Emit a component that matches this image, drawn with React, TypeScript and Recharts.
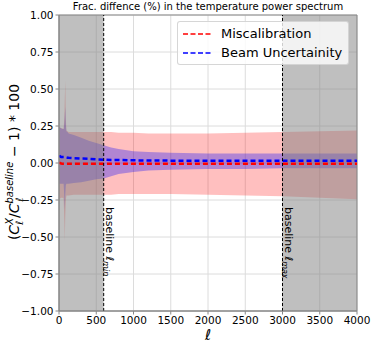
import React from 'react';
import {
  ComposedChart,
  Area,
  Line,
  XAxis,
  YAxis,
  CartesianGrid,
  ReferenceArea,
  ReferenceLine,
  Label,
} from 'recharts';

// multipole values
const ell = [2, 15, 30, 45, 62, 72, 78, 84, 92, 100, 115, 130, 200, 300, 400, 500, 600, 700, 800, 1000, 1200, 1500, 2000, 2500, 3000, 3500, 4000];

// miscalibration band + mean
const miscHigh = [0.24, 0.24, 0.235, 0.235, 0.23, 0.32, 0.45, 0.56, 0.3, 0.22, 0.215, 0.21, 0.21, 0.21, 0.21, 0.21, 0.21, 0.21, 0.205, 0.205, 0.2, 0.2, 0.2, 0.205, 0.21, 0.215, 0.22];
const miscLow = [-0.24, -0.24, -0.235, -0.235, -0.24, -0.4, -0.53, -0.36, -0.25, -0.22, -0.22, -0.22, -0.215, -0.215, -0.215, -0.215, -0.215, -0.215, -0.21, -0.21, -0.21, -0.21, -0.215, -0.22, -0.225, -0.235, -0.245];
const miscMean = [0.003, 0.0, -0.003, -0.005, -0.005, -0.005, -0.005, -0.005, -0.005, -0.005, -0.005, -0.005, -0.005, -0.005, -0.005, -0.005, -0.005, -0.005, -0.005, -0.005, -0.005, -0.005, -0.005, -0.005, -0.005, -0.005, -0.005];

// beam uncertainty band + mean
const beamHigh = [0.245, 0.24, 0.235, 0.23, 0.23, 0.27, 0.33, 0.38, 0.26, 0.215, 0.21, 0.2, 0.19, 0.17, 0.15, 0.135, 0.12, 0.105, 0.095, 0.08, 0.075, 0.07, 0.065, 0.065, 0.065, 0.065, 0.065];
const beamLow = [-0.14, -0.14, -0.14, -0.14, -0.14, -0.24, -0.32, -0.22, -0.15, -0.14, -0.14, -0.14, -0.135, -0.13, -0.12, -0.11, -0.105, -0.09, -0.075, -0.06, -0.05, -0.045, -0.04, -0.04, -0.035, -0.035, -0.035];
const beamMean = [0.04, 0.045, 0.04, 0.04, 0.04, 0.04, 0.04, 0.04, 0.04, 0.038, 0.036, 0.035, 0.033, 0.03, 0.028, 0.025, 0.022, 0.02, 0.02, 0.018, 0.017, 0.016, 0.015, 0.015, 0.015, 0.015, 0.015];

const xTicks = [0, 500, 1000, 1500, 2000, 2500, 3000, 3500, 4000];
const yTicks = [-1, -0.75, -0.5, -0.25, 0, 0.25, 0.5, 0.75, 1];
const lMin = 600;
const lMax = 3000;

const legendItems = [
  { name: 'Miscalibration', color: '#ff0000' },
  { name: 'Beam Uncertainity', color: '#0000ff' },
];

const data = ell.map((l, i) => ({
  ell: l,
  miscBand: [miscLow[i], miscHigh[i]],
  beamBand: [beamLow[i], beamHigh[i]],
  misc: miscMean[i],
  beam: beamMean[i],
}));

const FONT = '"DejaVu Sans", sans-serif';
const fmtY = (v: number) => v.toFixed(2).replace('-', '\u2212');

const YLabel = () => (
  <text
    x={19}
    y={162}
    transform="rotate(-90, 19, 162)"
    textAnchor="middle"
    fontSize={14}
    fill="#000"
    fontFamily={FONT}
  >
    (<tspan fontStyle="italic">C</tspan>
    <tspan fontSize={10} fontStyle="italic" dy={-6}>X</tspan>
    <tspan fontSize={10} fontStyle="italic" dx={-6.9} dy={10}>ℓ</tspan>
    <tspan dx={2.7} dy={-4}>/</tspan>
    <tspan fontStyle="italic">C</tspan>
    <tspan fontSize={10} fontStyle="italic" dy={-6}>baseline</tspan>
    <tspan fontSize={10} fontStyle="italic" dx={-40} dy={10}>ℓ</tspan>
    <tspan dx={36} dy={-4}> − 1) * 100</tspan>
  </text>
);

const XLabel = () => (
  <text x={208} y={340} textAnchor="middle" fontSize={15} fontStyle="italic" fill="#000" fontFamily={FONT}>
    ℓ
  </text>
);

const vLabel = (sub: string) => (props: any) => {
  const x = props.viewBox.x + 2;
  const y = 207;
  return (
    <text x={x} y={y} transform={`rotate(90, ${x}, ${y})`} fontSize={11} fill="#000" fontFamily={FONT}>
      baseline <tspan fontStyle="italic">ℓ</tspan>
      <tspan fontSize={8} fontStyle="italic" dy={2.5}>{sub}</tspan>
    </text>
  );
};

const LegendBox = () => (
  <div
    style={{
      position: 'absolute',
      left: 177,
      top: 21,
      background: 'rgba(255,255,255,0.8)',
      border: '1px solid rgba(204,204,204,0.8)',
      borderRadius: 3,
      padding: '2px 6px 2px 5px',
      fontFamily: FONT,
      fontSize: 13,
      color: '#000',
    }}
  >
    {legendItems.map((it) => (
      <div key={it.name} style={{ display: 'flex', alignItems: 'center', height: 19 }}>
        <svg width={28} height={4} style={{ marginRight: 10 }}>
          <line x1={0} y1={2} x2={28} y2={2} stroke={it.color} strokeWidth={1.6} strokeDasharray="5 2.5" />
        </svg>
        <span>{it.name}</span>
      </div>
    ))}
  </div>
);

export default function App() {
  return (
    <div style={{ position: 'absolute', left: 0, top: 0, width: 374, height: 344, background: '#fff', fontFamily: FONT }}>
      <div
        style={{
          position: 'absolute',
          left: 59,
          width: 298,
          top: 0,
          textAlign: 'center',
          fontSize: 10,
          lineHeight: '13px',
          whiteSpace: 'nowrap',
          color: '#000',
        }}
      >
        Frac. diffence (%) in the temperature power spectrum
      </div>
      <ComposedChart width={374} height={344} data={data} margin={{ top: 15, right: 17, bottom: 0, left: 0 }}>
        <CartesianGrid stroke="#dcdcdc" strokeWidth={1} />
        <XAxis
          dataKey="ell"
          type="number"
          domain={[0, 4000]}
          ticks={xTicks}
          height={33}
          allowDataOverflow
          tick={{ fontSize: 10.5, fill: '#000', fontFamily: FONT }}
          tickSize={3.5}
          tickLine={{ stroke: '#888' }}
          axisLine={{ stroke: '#888' }}
        >
          <Label content={XLabel} />
        </XAxis>
        <YAxis
          type="number"
          domain={[-1, 1]}
          ticks={yTicks}
          width={59}
          allowDataOverflow
          tickFormatter={fmtY}
          tick={{ fontSize: 10.5, fill: '#000', fontFamily: FONT }}
          tickSize={3.5}
          tickLine={{ stroke: '#888' }}
          axisLine={{ stroke: '#888' }}
        >
          <Label content={YLabel} />
        </YAxis>
        <Area
          dataKey="miscBand"
          type="linear"
          stroke="none"
          fill="#ff0000"
          fillOpacity={0.25}
          isAnimationActive={false}
        />
        <Area
          dataKey="beamBand"
          type="linear"
          stroke="none"
          fill="#0000ff"
          fillOpacity={0.3}
          isAnimationActive={false}
        />
        <ReferenceArea x1={0} x2={lMin} y1={-1} y2={1} fill="#808080" fillOpacity={0.5} stroke="none" />
        <ReferenceArea x1={lMax} x2={4000} y1={-1} y2={1} fill="#808080" fillOpacity={0.5} stroke="none" />
        <Line
          dataKey="misc"
          type="linear"
          stroke="#ff0000"
          strokeWidth={2.5}
          strokeDasharray="5 3"
          dot={false}
          isAnimationActive={false}
        />
        <Line
          dataKey="beam"
          type="linear"
          stroke="#0000ff"
          strokeWidth={2.5}
          strokeDasharray="5 3"
          dot={false}
          isAnimationActive={false}
        />
        <ReferenceLine x={lMin} stroke="#000" strokeWidth={1} strokeDasharray="3 2" label={vLabel('min')} />
        <ReferenceLine x={lMax} stroke="#000" strokeWidth={1} strokeDasharray="3 2" label={vLabel('max')} />
        <ReferenceArea x1={0} x2={4000} y1={-1} y2={1} fill="none" stroke="#888" strokeWidth={1} />
      </ComposedChart>
      <LegendBox />
    </div>
  );
}
